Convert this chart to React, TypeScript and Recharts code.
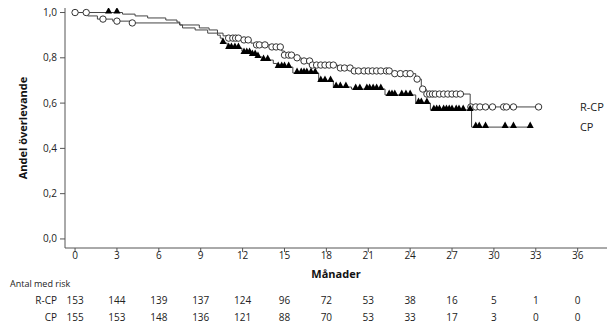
import React from "react";
import { ComposedChart, Line, Scatter, XAxis, YAxis, ReferenceDot } from "recharts";

// tick positions
const months = [0, 3, 6, 9, 12, 15, 18, 21, 24, 27, 30, 33, 36];
const survTicks = [0, 0.2, 0.4, 0.6, 0.8, 1.0];

// Kaplan-Meier steps, R-CP
const rcpTimes = [0, 0.9, 1.6, 2.7, 4.0, 7.5, 8.9, 9.6, 10.2, 10.6, 10.9, 11.9, 12.6, 12.9, 14.0, 14.8, 15.0, 15.7, 16.2, 16.9, 18.8, 19.85, 22.7, 24.4, 24.8, 25.15, 28.3, 33.2];
const rcpSurv = [1.0, 0.985, 0.971, 0.962, 0.954, 0.945, 0.932, 0.923, 0.909, 0.897, 0.887, 0.879, 0.865, 0.857, 0.848, 0.83, 0.812, 0.8, 0.786, 0.768, 0.755, 0.742, 0.73, 0.706, 0.662, 0.64, 0.583, 0.583];
const rcpCensored = [0, 0.8, 2.0, 3.0, 4.1, 11.0, 11.3, 11.5, 11.7, 12.1, 12.4, 13.0, 13.2, 13.6, 14.1, 14.4, 14.7, 15.0, 15.3, 15.5, 15.9, 16.4, 16.8, 17.0, 17.3, 17.6, 17.9, 18.2, 18.5, 19.0, 19.3, 19.7, 20.0, 20.3, 20.7, 21.0, 21.3, 21.6, 21.9, 22.3, 22.5, 22.9, 23.3, 23.7, 24.0, 24.5, 24.9, 25.2, 25.4, 25.6, 25.8, 26.1, 26.4, 26.7, 27.0, 27.3, 27.6, 28.35, 28.7, 29.0, 29.4, 29.9, 30.7, 30.9, 31.4, 33.2];

// Kaplan-Meier steps, CP
const cpTimes = [0, 3.4, 4.3, 5.2, 6.5, 7.3, 7.5, 7.7, 8.6, 9.5, 10.2, 10.4, 10.55, 10.9, 11.95, 12.0, 12.6, 13.0, 13.4, 14.2, 14.45, 15.6, 17.45, 18.5, 19.8, 22.2, 24.4, 25.45, 28.4, 32.6];
const cpSurv = [1.0, 0.993, 0.985, 0.976, 0.967, 0.958, 0.945, 0.932, 0.923, 0.909, 0.9, 0.887, 0.865, 0.843, 0.83, 0.821, 0.812, 0.804, 0.79, 0.775, 0.759, 0.733, 0.698, 0.671, 0.662, 0.636, 0.6, 0.57, 0.494, 0.494];
const cpCensored = [2.4, 3.0, 10.6, 11.0, 11.2, 11.45, 11.7, 12.1, 12.3, 12.5, 12.7, 12.9, 13.1, 13.5, 13.8, 14.55, 14.8, 15.0, 15.3, 15.9, 16.2, 16.4, 16.6, 16.9, 17.2, 17.6, 17.9, 18.3, 18.7, 19.0, 19.4, 20.1, 20.4, 20.9, 21.1, 21.35, 21.6, 21.9, 22.5, 22.7, 22.9, 23.4, 23.7, 24.0, 24.6, 24.8, 25.2, 25.7, 25.9, 26.1, 26.4, 26.6, 26.8, 27.0, 27.3, 27.5, 27.8, 28.3, 28.7, 28.95, 29.4, 30.8, 31.4, 32.6];

// number at risk
const rcpAtRisk = [153, 144, 139, 137, 124, 96, 72, 53, 38, 16, 5, 1, 0];
const cpAtRisk = [155, 153, 148, 136, 121, 88, 70, 53, 33, 17, 3, 0, 0];

const FONT = "'Open Sans', 'Noto Sans', sans-serif";
const INK = "#222";

const toSteps = (ts: number[], ss: number[]) => ts.map((t, i) => ({ t, s: ss[i] }));
const survAt = (ts: number[], ss: number[], t: number) => {
  let s = ss[0];
  ts.forEach((x, i) => {
    if (x <= t) s = ss[i];
  });
  return s;
};
const toMarks = (cs: number[], ts: number[], ss: number[]) => cs.map((t) => ({ t, s: survAt(ts, ss, t) }));

const rcpLine = toSteps(rcpTimes, rcpSurv);
const cpLine = toSteps(cpTimes, cpSurv);
const rcpMarks = toMarks(rcpCensored, rcpTimes, rcpSurv);
const cpMarks = toMarks(cpCensored, cpTimes, cpSurv);

const Circle = (p: any) => <circle cx={p.cx} cy={p.cy} r={3.2} fill="#fff" stroke="#333" strokeWidth={1} />;
const Triangle = (p: any) => (
  <path d={`M${p.cx - 3.5},${p.cy + 1} L${p.cx + 3.5},${p.cy + 1} L${p.cx},${p.cy - 5.5} Z`} fill="#000" />
);

const riskTick = (counts: number[], name: string, dy: number) => (p: any) => {
  const i = months.indexOf(p.payload.value);
  return (
    <g>
      {i === 0 && (
        <text x={p.x - 18} y={p.y + dy} textAnchor="end" dominantBaseline="central" fontSize={10} fontFamily={FONT} fill={INK}>
          {name}
        </text>
      )}
      <text x={p.x} y={p.y + dy} textAnchor="middle" dominantBaseline="central" fontSize={10} fontFamily={FONT} fill={INK}>
        {counts[i]}
      </text>
    </g>
  );
};

const App: React.FC = () => {
  return (
    <div style={{ position: "absolute", left: 0, top: 0, width: 613, height: 329, background: "#fff" }}>
      <ComposedChart width={613} height={329} margin={{ top: 8, right: 6, left: 0, bottom: 5 }}>
        <XAxis
          type="number"
          dataKey="t"
          domain={[-0.72, 38.1]}
          allowDataOverflow
          ticks={months}
          interval={0}
          height={32}
          stroke="#555"
          tickSize={4}
          tickMargin={0}
          tick={{ fill: INK, fontSize: 10, fontFamily: FONT }}
          label={(props: any) => {
            const vb = props.viewBox;
            return (
              <text x={vb.x + vb.width / 2} y={vb.y + 25} textAnchor="middle" dominantBaseline="central" fontSize={11} fontWeight="bold" fontFamily={FONT} fill="#111">
                Månader
              </text>
            );
          }}
        />
        <XAxis
          xAxisId="risk1"
          type="number"
          dataKey="t"
          domain={[-0.72, 38.1]}
          allowDataOverflow
          ticks={months}
          interval={0}
          height={26}
          axisLine={false}
          tickLine={false}
          tickSize={0}
          tickMargin={0}
          tick={riskTick(rcpAtRisk, "R-CP", 20)}
          label={(props: any) => {
            const vb = props.viewBox;
            return (
              <text x={vb.x - 55} y={vb.y + 3} dominantBaseline="central" fontSize={9} fontFamily={FONT} fill={INK}>
                Antal med risk
              </text>
            );
          }}
        />
        <XAxis
          xAxisId="risk2"
          type="number"
          dataKey="t"
          domain={[-0.72, 38.1]}
          allowDataOverflow
          ticks={months}
          interval={0}
          height={18}
          axisLine={false}
          tickLine={false}
          tickSize={0}
          tickMargin={0}
          tick={riskTick(cpAtRisk, "CP", 11)}
        />
        <YAxis
          type="number"
          domain={[-0.04, 1.02]}
          allowDataOverflow
          ticks={survTicks}
          interval={0}
          width={65}
          stroke="#555"
          tickSize={5}
          tickMargin={3}
          tick={{ fill: INK, fontSize: 10, fontFamily: FONT }}
          tickFormatter={(v: number) => v.toFixed(1).replace(".", ",")}
          label={(props: any) => {
            const vb = props.viewBox;
            const cx = vb.x + 22;
            const cy = vb.y + vb.height / 2;
            return (
              <text x={cx} y={cy} transform={`rotate(-90, ${cx}, ${cy})`} textAnchor="middle" dominantBaseline="central" fontSize={11} fontWeight="bold" fontFamily={FONT} fill="#111">
                Andel överlevande
              </text>
            );
          }}
        />
        <Line data={rcpLine} dataKey="s" type="stepAfter" stroke="#444" strokeWidth={1} dot={false} isAnimationActive={false} />
        <Line data={cpLine} dataKey="s" type="stepAfter" stroke="#444" strokeWidth={1} dot={false} isAnimationActive={false} />
        <Scatter data={rcpMarks} dataKey="s" shape={Circle} isAnimationActive={false} />
        <Scatter data={cpMarks} dataKey="s" shape={Triangle} isAnimationActive={false} />
        <ReferenceDot
          x={35.8}
          y={rcpSurv[rcpSurv.length - 1]}
          r={0}
          label={{ value: "R-CP", position: "right", fontSize: 11, fontFamily: FONT, fill: INK }}
        />
        <ReferenceDot
          x={35.8}
          y={cpSurv[cpSurv.length - 1]}
          r={0}
          label={{ value: "CP", position: "right", fontSize: 11, fontFamily: FONT, fill: INK }}
        />
      </ComposedChart>
    </div>
  );
};

export default App;
